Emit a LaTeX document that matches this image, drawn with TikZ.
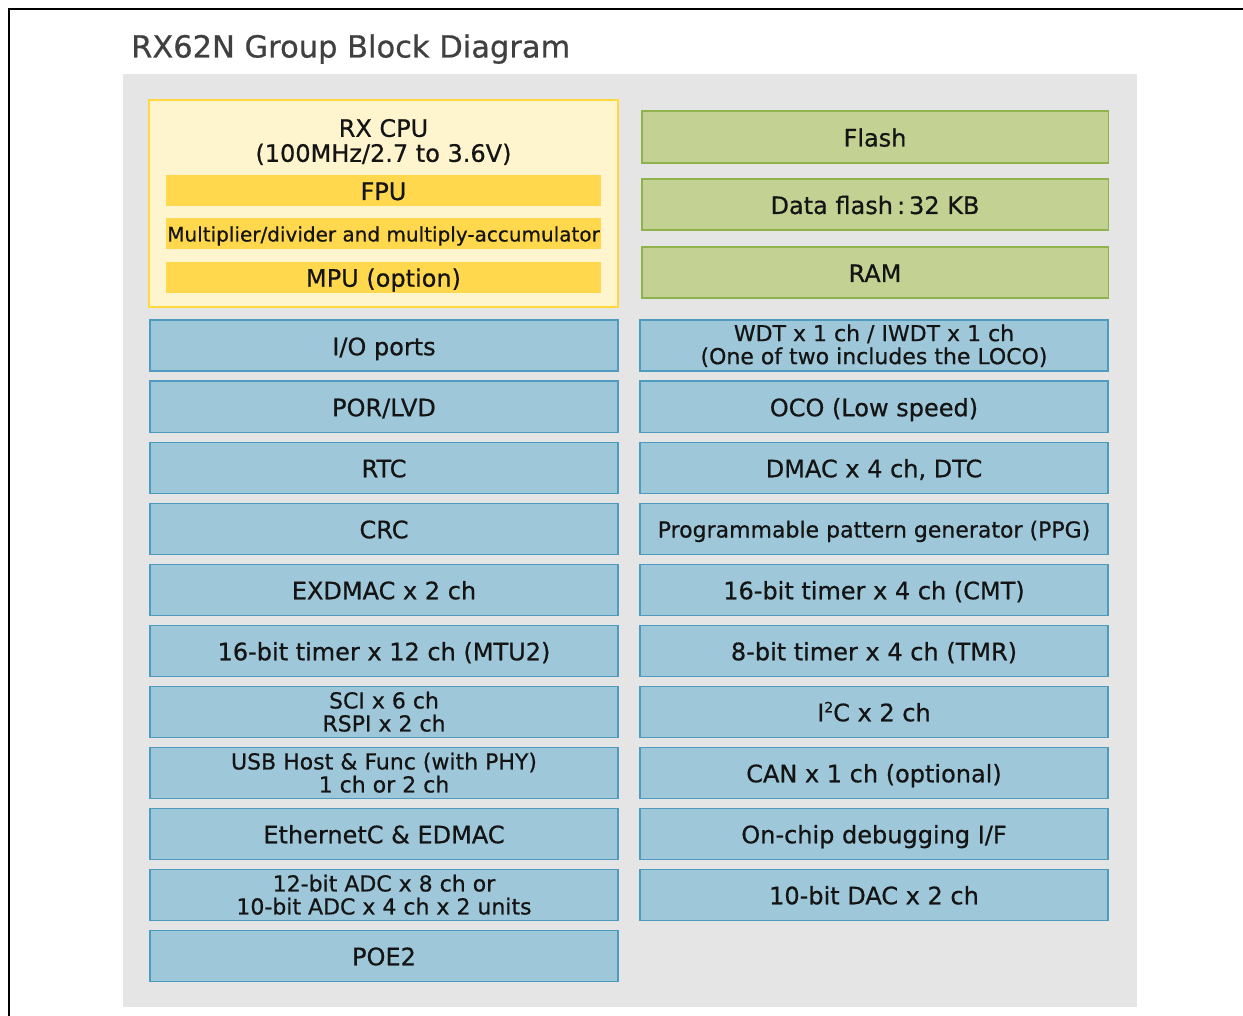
\documentclass[tikz,border=0pt]{standalone}
\usepackage{fontspec}
\setmainfont{DejaVu Sans}[FakeBold=0.6]
\definecolor{panel}{HTML}{E5E5E5}
\definecolor{cpufill}{HTML}{FEF4CD}
\definecolor{cpuline}{HTML}{FFD93D}
\definecolor{barfill}{HTML}{FFD84D}
\definecolor{grnfill}{HTML}{C3D192}
\definecolor{grnline}{HTML}{8FB24C}
\definecolor{blufill}{HTML}{9EC7D9}
\definecolor{bluline}{HTML}{4E9BC0}
\definecolor{txt}{HTML}{141414}
\definecolor{ttl}{HTML}{404040}
\begin{document}
\begin{tikzpicture}[x=1pt,y=1pt,
  blk/.style={draw=bluline, fill=blufill, line width=1.5pt, minimum width=468pt,
    minimum height=51pt, inner sep=0pt, align=center, text=txt,
    text height=19pt, text depth=0pt,
    font=\fontsize{24}{24}\selectfont},
  twoline/.style={font=\fontsize{22}{23}\selectfont, text height=, text depth=},
  grn/.style={blk, draw=grnline, fill=grnfill, minimum width=466.5pt},
  cpubox/.style={draw=cpuline, fill=cpufill, line width=2pt, minimum width=469pt,
    minimum height=207pt, inner sep=0pt},
  bar/.style={fill=barfill, minimum width=435pt, minimum height=31pt, inner sep=0pt,
    text=txt, text height=19pt, text depth=0pt, font=\fontsize{24}{24}\selectfont}
]
\useasboundingbox (0,0) rectangle (1243,-1016);
% frame lines
\coordinate (fa) at (8,-9);
\coordinate (fb) at (1243,-9);
\coordinate (fc) at (9,-8);
\coordinate (fd) at (9,-1016);
\draw[line width=2.5pt, black] (fa) -- (fb);
\draw[line width=2.5pt, black] (fc) -- (fd);
% panel
\fill[panel] (123,-74) rectangle (1137,-1007);
% title
\node[anchor=base west, inner sep=0pt, text=ttl, font=\fontsize{30.5}{30.5}\selectfont] (title) at (131,-57.5) {RX62N Group Block Diagram};
% CPU
\node[cpubox] (cpu) at (383.5,-203.5) {};
\node[align=center, inner sep=0pt, text=txt, font=\fontsize{24}{25}\selectfont] (cpulbl) at (383.5,-142) {RX CPU\\(100MHz/2.7 to 3.6V)};
\node[bar] (fpu) at (383.5,-190.5) {FPU};
\node[bar, minimum height=31.6pt, text height=16pt, font=\fontsize{20}{20}\selectfont] (mult) at (383.5,-233.5) {Multiplier/divider and multiply-accumulator};
\node[bar] (mpu) at (383.5,-277.2) {MPU (option)};
% memory
\node[grn, minimum height=52pt] (flash) at (875,-137) {Flash};
\node[grn] (dflash) at (875,-204.5) {Data flash\,:\,32 KB};
\node[grn] (ram) at (875,-272.5) {RAM};
% left column
\node[blk] (io) at (384,-345.75) {I/O ports};
\node[blk] (por) at (384,-406.75) {POR/LVD};
\node[blk] (rtc) at (384,-467.75) {RTC};
\node[blk] (crc) at (384,-528.75) {CRC};
\node[blk] (exdmac) at (384,-589.75) {EXDMAC x 2 ch};
\node[blk] (mtu) at (384,-650.75) {16-bit timer x 12 ch (MTU2)};
\node[blk, twoline] (sci) at (384,-711.75) {SCI x 6 ch\\RSPI x 2 ch};
\node[blk, twoline] (usb) at (384,-772.75) {USB Host \& Func (with PHY)\\1 ch or 2 ch};
\node[blk] (eth) at (384,-833.75) {EthernetC \& EDMAC};
\node[blk, twoline] (adc) at (384,-894.75) {12-bit ADC x 8 ch or\\10-bit ADC x 4 ch x 2 units};
\node[blk] (poe) at (384,-955.75) {POE2};
% right column
\node[blk, twoline] (wdt) at (874,-345.75) {WDT x 1 ch / IWDT x 1 ch\\(One of two includes the LOCO)};
\node[blk] (oco) at (874,-406.75) {OCO (Low speed)};
\node[blk] (dmac) at (874,-467.75) {DMAC x 4 ch, DTC};
\node[blk, text height=17.5pt, font=\fontsize{22}{22}\selectfont] (ppg) at (874,-528.75) {Programmable pattern generator (PPG)};
\node[blk] (cmt) at (874,-589.75) {16-bit timer x 4 ch (CMT)};
\node[blk] (tmr) at (874,-650.75) {8-bit timer x 4 ch (TMR)};
\node[blk] (iic) at (874,-711.75) {I\raisebox{9pt}{\fontsize{14}{14}\selectfont 2}C x 2 ch};
\node[blk] (can) at (874,-772.75) {CAN x 1 ch (optional)};
\node[blk] (dbg) at (874,-833.75) {On-chip debugging I/F};
\node[blk] (dac) at (874,-894.75) {10-bit DAC x 2 ch};
\end{tikzpicture}
\end{document}
